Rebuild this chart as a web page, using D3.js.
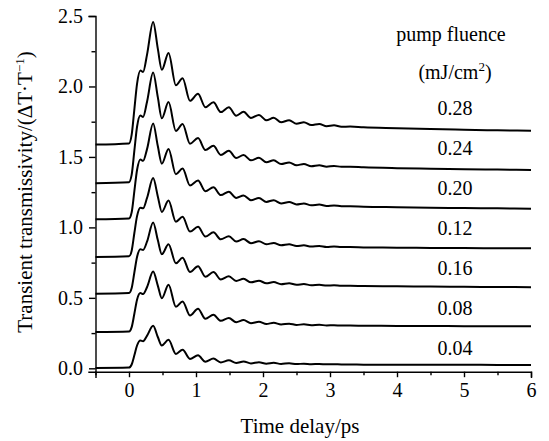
<!DOCTYPE html>
<html>
<head>
<meta charset="utf-8">
<script src="https://cdn.jsdelivr.net/npm/d3@7"></script>
<style>
  body { margin: 0; background: #fff; }
  #chart { width: 549px; height: 441px; }
  svg text { font-family: "Liberation Serif", "DejaVu Serif", serif !important; fill: #000; }
  .axis path, .axis line { stroke: #000; stroke-width: 1.4; }
  .axis text { font-size: 20px; }
</style>
</head>
<body>
<div id="chart"></div>
<script>
// time delay (ps), shared by every trace
var times = [-0.5, 0.0, 0.04, 0.08, 0.12, 0.17, 0.21, 0.27, 0.36, 0.43, 0.49, 0.59, 0.70, 0.80, 0.91,
	1.03, 1.14, 1.26, 1.37, 1.49, 1.60, 1.71, 1.82, 1.94, 2.05, 2.16, 2.27, 2.39, 2.50, 2.61, 2.72,
	2.84, 2.95, 3.06, 3.17, 3.3, 3.5, 4.0, 4.5, 5.0, 5.5, 6.0];

// pump fluence label of each trace, top to bottom
var fluences = ["0.28", "0.24", "0.20", "0.12", "0.16", "0.08", "0.04"];

// vertical offset of each trace
var offsets = [1.588, 1.314, 1.057, 0.790, 0.530, 0.257, 0.002];

// transient response of each trace (before offset)
var s028 = [0, 0.008, 0.07, 0.25, 0.43, 0.525, 0.515, 0.64, 0.87, 0.68, 0.53, 0.65, 0.42, 0.47, 0.31,
	0.36, 0.265, 0.30, 0.23, 0.265, 0.205, 0.232, 0.188, 0.21, 0.172, 0.19, 0.158, 0.172, 0.147, 0.158, 0.138,
	0.146, 0.13, 0.136, 0.126, 0.128, 0.122, 0.116, 0.11, 0.105, 0.101, 0.098];
var s024 = [0, 0.007, 0.06, 0.23, 0.40, 0.48, 0.47, 0.58, 0.785, 0.61, 0.46, 0.575, 0.37, 0.42, 0.28,
	0.32, 0.235, 0.265, 0.20, 0.23, 0.178, 0.20, 0.162, 0.18, 0.148, 0.162, 0.135, 0.147, 0.127, 0.136, 0.12,
	0.127, 0.117, 0.122, 0.116, 0.116, 0.112, 0.106, 0.102, 0.099, 0.096, 0.094];
var s020 = [0, 0.006, 0.05, 0.20, 0.35, 0.425, 0.415, 0.50, 0.68, 0.52, 0.395, 0.50, 0.32, 0.36, 0.24,
	0.275, 0.20, 0.228, 0.172, 0.196, 0.152, 0.17, 0.136, 0.152, 0.124, 0.136, 0.113, 0.123, 0.106, 0.113, 0.10,
	0.105, 0.095, 0.099, 0.093, 0.093, 0.09, 0.086, 0.082, 0.08, 0.078, 0.076];
var s012 = [0, 0.005, 0.045, 0.17, 0.29, 0.35, 0.345, 0.42, 0.56, 0.43, 0.32, 0.40, 0.25, 0.285, 0.18,
	0.215, 0.145, 0.175, 0.125, 0.148, 0.11, 0.127, 0.098, 0.112, 0.09, 0.10, 0.083, 0.09, 0.078, 0.083, 0.074,
	0.078, 0.071, 0.074, 0.07, 0.07, 0.068, 0.066, 0.064, 0.063, 0.062, 0.062];
var s016 = [0, 0.005, 0.04, 0.15, 0.26, 0.315, 0.31, 0.37, 0.505, 0.38, 0.28, 0.35, 0.215, 0.255, 0.153,
	0.195, 0.12, 0.153, 0.10, 0.123, 0.09, 0.105, 0.08, 0.092, 0.073, 0.082, 0.067, 0.074, 0.063, 0.068, 0.06,
	0.063, 0.057, 0.06, 0.056, 0.056, 0.054, 0.052, 0.05, 0.048, 0.047, 0.046];
var s008 = [0, 0.004, 0.035, 0.13, 0.23, 0.277, 0.27, 0.32, 0.43, 0.33, 0.24, 0.336, 0.18, 0.218, 0.118,
	0.166, 0.095, 0.123, 0.08, 0.10, 0.07, 0.085, 0.063, 0.074, 0.058, 0.066, 0.054, 0.06, 0.051, 0.055, 0.049,
	0.052, 0.047, 0.049, 0.046, 0.046, 0.045, 0.044, 0.043, 0.042, 0.041, 0.041];
var s004 = [0, 0.003, 0.025, 0.09, 0.16, 0.195, 0.19, 0.23, 0.30, 0.22, 0.16, 0.20, 0.10, 0.13, 0.065,
	0.09, 0.045, 0.067, 0.04, 0.055, 0.036, 0.047, 0.033, 0.041, 0.031, 0.037, 0.029, 0.034, 0.028, 0.031, 0.027,
	0.029, 0.026, 0.027, 0.025, 0.025, 0.024, 0.024, 0.023, 0.023, 0.022, 0.022];

var series = [s028, s024, s020, s012, s016, s008, s004];

var xMajor = [0, 1, 2, 3, 4, 5, 6];
var xMinor = [-0.5, 0.5, 1.5, 2.5, 3.5, 4.5, 5.5];
var yMajor = [0, 0.5, 1.0, 1.5, 2.0, 2.5];
var yMinor = [0.25, 0.75, 1.25, 1.75, 2.25];

var serif = "Liberation Serif";

var width = 549;
var height = 441;
var svg = d3.select("#chart")
	.append("svg")
	.attr("width", width)
	.attr("height", height)
	.attr("font-family", serif);

var xScale = d3.scaleLinear()
	.domain([-0.5, 6])
	.range([95.5, 531]);

var yScale = d3.scaleLinear()
	.domain([-0.024, 2.5])
	.range([371.7, 16]);

// axes
svg.append("g")
	.attr("class", "axis")
	.attr("transform", "translate(0," + yScale.range()[0] + ")")
	.call(d3.axisBottom(xScale).tickValues(xMajor).tickSize(5.5).tickPadding(6)
		.tickFormat(d3.format("d")));
svg.append("g")
	.attr("class", "axis")
	.attr("transform", "translate(0," + yScale.range()[0] + ")")
	.call(d3.axisBottom(xScale).tickValues(xMinor).tickSize(3.5).tickFormat(""))
	.select(".domain").remove();

svg.append("g")
	.attr("class", "axis")
	.attr("transform", "translate(" + xScale.range()[0] + ",0)")
	.call(d3.axisLeft(yScale).tickValues(yMajor).tickSize(6.5).tickPadding(6)
		.tickFormat(d3.format(".1f")));
svg.append("g")
	.attr("class", "axis")
	.attr("transform", "translate(" + xScale.range()[0] + ",0)")
	.call(d3.axisLeft(yScale).tickValues(yMinor).tickSize(4).tickFormat(""))
	.select(".domain").remove();

svg.selectAll(".axis").attr("font-family", serif).attr("font-size", 20);
svg.selectAll(".axis .domain").attr("stroke-linecap", "square");

// traces
var line = d3.line()
	.x(function(d) { return xScale(d[0]); })
	.y(function(d) { return yScale(d[1]); })
	.curve(d3.curveMonotoneX);

series.forEach(function(vals, i) {
	var pts = times.map(function(t, j) {
		return [t, vals[j] + offsets[i]];
	});
	svg.append("path")
		.datum(pts)
		.attr("fill", "none")
		.attr("stroke", "#000")
		.attr("stroke-width", 2)
		.attr("stroke-linejoin", "round")
		.attr("d", line);
});

// legend labels
svg.append("text")
	.attr("x", 451)
	.attr("y", 41)
	.attr("text-anchor", "middle")
	.attr("font-family", serif)
	.attr("font-size", 20)
	.text("pump fluence");

var unit = svg.append("text")
	.attr("x", 455)
	.attr("y", 79)
	.attr("text-anchor", "middle")
	.attr("font-family", serif)
	.attr("font-size", 20);
unit.append("tspan").text("(mJ/cm");
unit.append("tspan").attr("dy", -8).attr("font-size", 13).text("2");
unit.append("tspan").attr("dy", 8).text(")");

fluences.forEach(function(f, i) {
	svg.append("text")
		.attr("x", 455)
		.attr("y", 114.5 + i * 40)
		.attr("text-anchor", "middle")
		.attr("font-family", serif)
		.attr("font-size", 20)
		.text(f);
});

// axis titles
svg.append("text")
	.attr("x", 300)
	.attr("y", 433)
	.attr("text-anchor", "middle")
	.attr("font-family", serif)
	.attr("font-size", 21)
	.text("Time delay/ps");

var yt = svg.append("text")
	.attr("transform", "translate(32,192) rotate(-90)")
	.attr("text-anchor", "middle")
	.attr("font-family", serif)
	.attr("font-size", 21);
yt.append("tspan").text("Transient transmissivity/(\u0394T\u00b7T");
yt.append("tspan").attr("dy", -8).attr("font-size", 13).text("\u22121");
yt.append("tspan").attr("dy", 8).text(")");
</script>
</body>
</html>
